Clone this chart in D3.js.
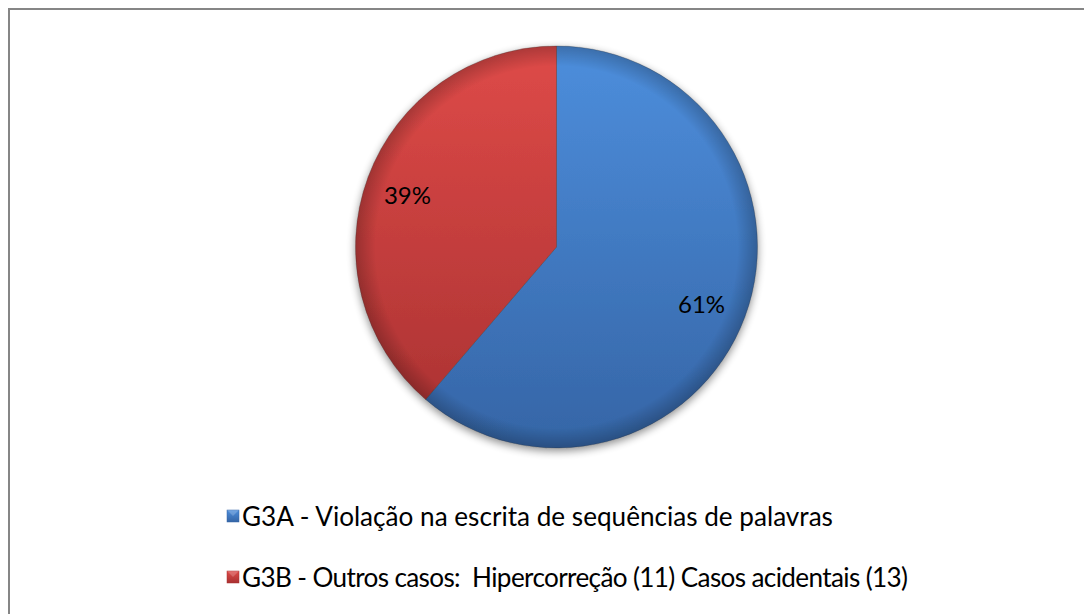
<!DOCTYPE html>
<html><head><meta charset="utf-8">
<script src="https://cdn.jsdelivr.net/npm/d3@7"></script>
<style>html,body{margin:0;padding:0;background:#fff;}svg{display:block;} text{white-space:pre;}</style>
</head><body>
<svg id="chart" width="1084" height="614"></svg>
<script>
const categories = ["G3A - Violação na escrita de sequências de palavras",
                    "G3B - Outros casos:  Hipercorreção (11) Casos acidentais (13)"];
const values = [38, 24];
const labels = ["61%", "39%"];
const colorsTop = ["#4d8edc", "#de4a48"];
const colorsBottom = ["#3565a6", "#a83131"];

const svg = d3.select("#chart");
const W = 1084, H = 614;
const font = "Lato, 'Open Sans', sans-serif";

svg.append("rect").attr("x", 9).attr("y", 9).attr("width", W).attr("height", H)
  .attr("fill", "#fff").attr("stroke", "#868686").attr("stroke-width", 2);

const defs = svg.append("defs");
categories.forEach((c, i) => {
  const g = defs.append("linearGradient").attr("id", "grad" + i)
    .attr("x1", 0).attr("y1", 0).attr("x2", 0).attr("y2", 1);
  g.append("stop").attr("offset", "0%").attr("stop-color", colorsTop[i]);
  g.append("stop").attr("offset", "100%").attr("stop-color", colorsBottom[i]);
  const gu = defs.append("linearGradient").attr("id", "gradU" + i)
    .attr("gradientUnits", "userSpaceOnUse")
    .attr("x1", 0).attr("y1", -201).attr("x2", 0).attr("y2", 201);
  gu.append("stop").attr("offset", "0%").attr("stop-color", colorsTop[i]);
  gu.append("stop").attr("offset", "100%").attr("stop-color", colorsBottom[i]);
});
const rg = defs.append("radialGradient").attr("id", "bevel")
  .attr("gradientUnits", "userSpaceOnUse").attr("cx", 0).attr("cy", 0).attr("r", 201);
rg.append("stop").attr("offset", "0%").attr("stop-color", "#000").attr("stop-opacity", 0);
rg.append("stop").attr("offset", "90%").attr("stop-color", "#000").attr("stop-opacity", 0);
rg.append("stop").attr("offset", "100%").attr("stop-color", "#000").attr("stop-opacity", 0.22);
const sh = defs.append("filter").attr("id", "shadow").attr("x", "-20%").attr("y", "-20%")
  .attr("width", "140%").attr("height", "140%");
sh.append("feGaussianBlur").attr("in", "SourceAlpha").attr("stdDeviation", 4);
sh.append("feOffset").attr("dx", 0).attr("dy", 3).attr("result", "b");
sh.append("feComponentTransfer").append("feFuncA").attr("type", "linear").attr("slope", 0.45);
const m = sh.append("feMerge");
m.append("feMergeNode");
m.append("feMergeNode").attr("in", "SourceGraphic");

const cx = 556.5, cy = 247, r = 201;
const pie = d3.pie().sort(null).value(d => d);
const arcs = pie(values);
const arc = d3.arc().innerRadius(0).outerRadius(r);
const labelArc = d3.arc().innerRadius(r * 0.78).outerRadius(r * 0.78);

const g = svg.append("g").attr("transform", `translate(${cx},${cy})`);
const pg = g.append("g").attr("filter", "url(#shadow)");
pg.selectAll("path.slice").data(arcs).enter().append("path").attr("class", "slice")
  .attr("d", arc).attr("fill", (d, i) => `url(#gradU${i})`)
  .attr("stroke", "#3a3a3a").attr("stroke-width", 0.6).attr("stroke-opacity", 0.5);
g.selectAll("path.bev").data(arcs).enter().append("path").attr("class", "bev")
  .attr("d", arc).attr("fill", "url(#bevel)");

g.selectAll("text.lbl").data(arcs).enter().append("text").attr("class", "lbl")
  .attr("transform", d => { const p = labelArc.centroid(d); return `translate(${p[0] - 2},${p[1] + 2})`; })
  .attr("text-anchor", "middle").attr("dominant-baseline", "central")
  .style("font-family", font).style("font-size", "24px").attr("fill", "#000")
  .text((d, i) => labels[i]);

const legY = [516, 577];
const legW = [591, 666];
const lg = svg.append("g");
categories.forEach((c, i) => {
  lg.append("rect").attr("x", 227).attr("y", legY[i] - 6).attr("width", 12).attr("height", 12)
    .attr("fill", `url(#grad${i})`).attr("stroke", colorsBottom[i]).attr("stroke-width", 0.5);
  lg.append("path").attr("d", `M227,${legY[i]-6} L233,${legY[i]} L239,${legY[i]-6} Z`)
    .attr("fill", "#fff").attr("opacity", 0.2);
  lg.append("text").attr("x", 242).attr("y", legY[i]).attr("dominant-baseline", "central")
    .attr("xml:space", "preserve")
    .style("font-family", font).style("font-size", "22px").attr("fill", "#000").text(c);
});
const texts = lg.selectAll("text").nodes();
const fs = 22 * legW[0] / texts[0].getComputedTextLength();
lg.selectAll("text").style("font-size", fs.toFixed(2) + "px");
texts.forEach((t, i) => {
  const w = t.getComputedTextLength();
  if (Math.abs(w - legW[i]) > 3) d3.select(t).attr("textLength", legW[i]).attr("lengthAdjust", "spacing");
});
</script>
</body></html>
